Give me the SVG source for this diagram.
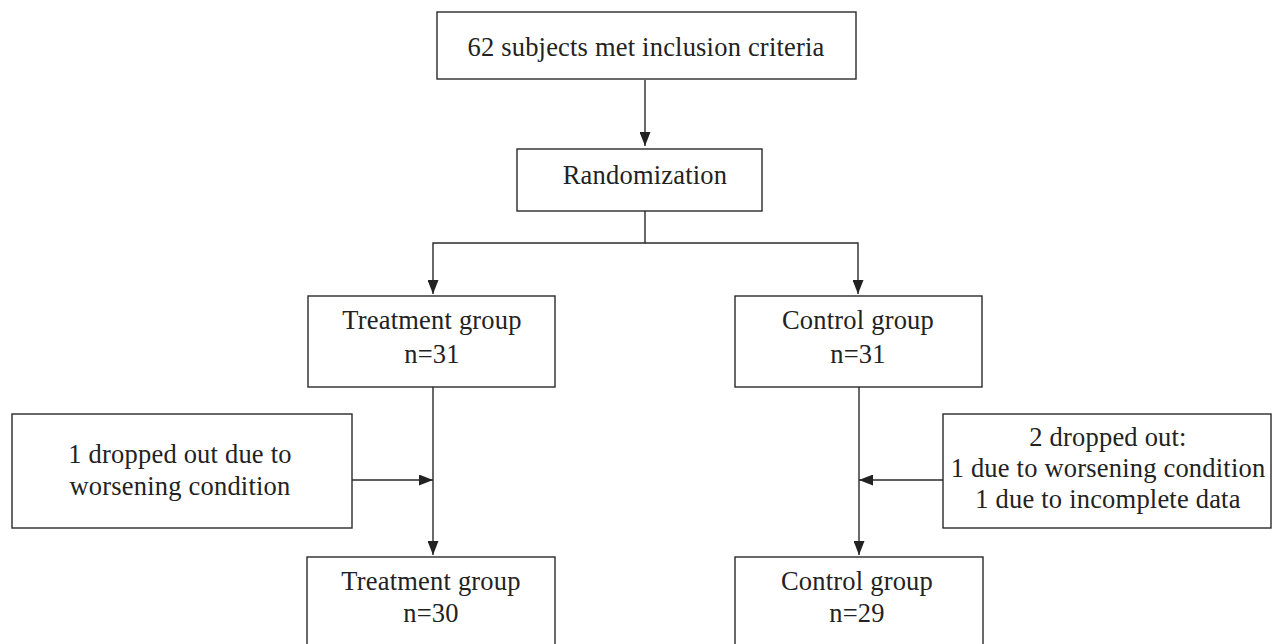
<svg xmlns="http://www.w3.org/2000/svg" width="1272" height="644" viewBox="0 0 1272 644">
<defs>
<style>
.box{fill:#fff;stroke:#2a2a2a;stroke-width:1.4}
.t{font-family:"Liberation Serif",serif;font-size:26.5px;letter-spacing:0.2px;fill:#222;text-anchor:middle}
.c{fill:none;stroke:#2a2a2a;stroke-width:1.4}
</style>
<marker id="ahl" viewBox="0 0 14 11" refX="14" refY="5.5" markerWidth="14" markerHeight="11" markerUnits="userSpaceOnUse" orient="auto">
<path d="M0,0 L14,5.5 L0,11 z" fill="#222"/>
</marker>
</defs>
<rect width="1272" height="644" fill="#fff"/>
<g id="connectors">
<path class="c" d="M645,80 V146" marker-end="url(#ahl)"/>
<path class="c" d="M645,211 V243 H433 V294" marker-end="url(#ahl)"/>
<path class="c" d="M645,243 H858 V294" marker-end="url(#ahl)"/>
<path class="c" d="M433,387 V555" marker-end="url(#ahl)"/>
<path class="c" d="M352,480 H433" marker-end="url(#ahl)"/>
<path class="c" d="M859,387 V555" marker-end="url(#ahl)"/>
<path class="c" d="M943,480 H859" marker-end="url(#ahl)"/>
</g>
<g id="n-inclusion">
<rect class="box" x="437" y="12" width="419" height="67"/>
<text class="t" x="646" y="56">62 subjects met inclusion criteria</text>
</g>
<g id="n-random">
<rect class="box" x="517" y="149" width="245" height="62"/>
<text class="t" x="645" y="184">Randomization</text>
</g>
<g id="n-treat1">
<rect class="box" x="308" y="296" width="247" height="91"/>
<text class="t" x="432" y="329">Treatment group</text>
<text class="t" x="432" y="363">n=31</text>
</g>
<g id="n-control1">
<rect class="box" x="735" y="296" width="247" height="91"/>
<text class="t" x="858" y="329">Control group</text>
<text class="t" x="858" y="363">n=31</text>
</g>
<g id="n-drop1">
<rect class="box" x="12" y="414" width="340" height="114"/>
<text class="t" x="180" y="463">1 dropped out due to</text>
<text class="t" x="180" y="495">worsening condition</text>
</g>
<g id="n-drop2">
<rect class="box" x="943" y="414" width="328" height="114"/>
<text class="t" x="1108" y="446">2 dropped out:</text>
<text class="t" x="1108" y="477">1 due to worsening condition</text>
<text class="t" x="1108" y="508">1 due to incomplete data</text>
</g>
<g id="n-treat2">
<rect class="box" x="307" y="557" width="248" height="100"/>
<text class="t" x="431" y="590">Treatment group</text>
<text class="t" x="431" y="622">n=30</text>
</g>
<g id="n-control2">
<rect class="box" x="735" y="557" width="248" height="100"/>
<text class="t" x="857" y="590">Control group</text>
<text class="t" x="857" y="622">n=29</text>
</g>
</svg>
